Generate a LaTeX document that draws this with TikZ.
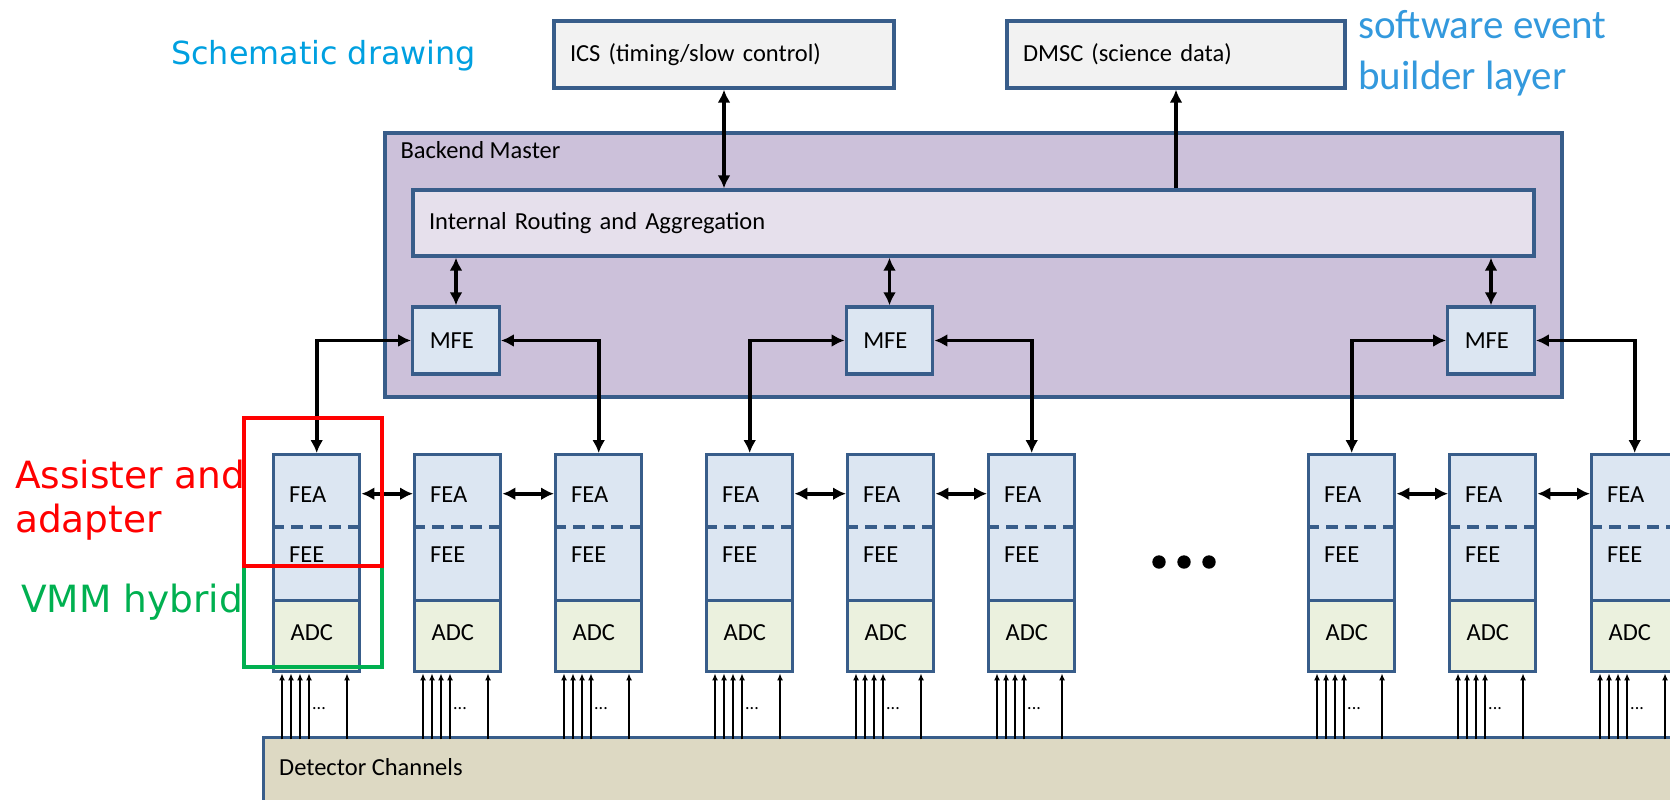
\documentclass[tikz,border=0pt]{standalone}
\usepackage{fontspec}
\setmainfont{Carlito}
\newfontfamily\verdanafont{DejaVu Sans}
\usetikzlibrary{arrows.meta,calc}

\definecolor{edgeblue}{HTML}{385D8A}
\definecolor{sysgray}{HTML}{F2F2F2}
\definecolor{bmpurple}{HTML}{CCC1DA}
\definecolor{irafill}{HTML}{E6E0EC}
\definecolor{fefill}{HTML}{DCE6F2}
\definecolor{adcfill}{HTML}{EBF1DE}
\definecolor{detfill}{HTML}{DDD9C3}
\definecolor{markred}{HTML}{FF0000}
\definecolor{markgreen}{HTML}{00B050}
\definecolor{skyblue}{HTML}{00A0E0}
\definecolor{eventblue}{HTML}{3399DD}

\tikzset{
  box/.style={draw=edgeblue, line width=3.4pt, rectangle, inner sep=0pt,
    font=\fontsize{24.5}{29}\selectfont},
  lbl/.style={inner sep=0pt, font=\fontsize{24.5}{29}\selectfont},
  link/.style={line width=3.6pt, >={Latex[length=13pt,width=13pt]}, <->},
  uplink/.style={link, ->},
  chan/.style={line width=1.6pt, -{Latex[length=7pt,width=6pt]}},
  sep/.style={draw=edgeblue, line width=3.6pt, dash pattern=on 12pt off 7pt},
  note/.style={inner sep=0pt, font=\verdanafont\fontsize{37.5}{44}\selectfont, align=left}
}

\begin{document}
\begin{tikzpicture}[x=1pt,y=-1pt]
\useasboundingbox (0,0) rectangle (1670,800);
\clip (0,0) rectangle (1670,800);

% top level systems
\node[box, fill=sysgray, minimum width=340pt, minimum height=67pt, text width=308pt, inner xsep=16pt, align=left] (ics) at (724,54.5) {ICS (timing/slow control)};
\node[box, fill=sysgray, minimum width=338pt, minimum height=67pt, text width=306pt, inner xsep=16pt, align=left] (dmsc) at (1176,54.5) {DMSC (science data)};

% backend master
\node[box, fill=bmpurple, minimum width=1177pt, minimum height=264pt] (bm) at (973.5,265) {};
\node[lbl, anchor=west] (bmlbl) at ($(bm.north west)+(17,19)$) {Backend Master};
\node[box, fill=irafill, minimum width=1121pt, minimum height=66pt, text width=1089pt, inner xsep=16pt, align=left] (ira) at (973.5,223) {Internal Routing and Aggregation};

\foreach \m/\x in {1/456,2/889.5,3/1491}
  \node[box, fill=fefill, minimum width=86.5pt, minimum height=67pt, text width=52.5pt, inner xsep=17pt, align=left] (mfe\m) at (\x,340.5) {MFE};

% detector
\node[box, fill=detfill, minimum width=1500pt, minimum height=120pt, anchor=north west] (det) at (262,736) {};
\node[lbl, anchor=west] (detlbl) at ($(det.north west)+(17,31)$) {Detector Channels};

% front end columns
\foreach \n/\x in {1/272,2/413,3/554,4/705,5/846,6/987,7/1307,8/1448,9/1590}{
  \node[box, fill=fefill, minimum width=86pt, minimum height=146pt, anchor=north west] (fe\n) at (\x,453) {};
  \node[box, fill=adcfill, minimum width=86pt, minimum height=71pt, text width=52pt, text depth=7pt, inner xsep=17pt, align=left, anchor=north west] (adc\n) at (\x,599) {ADC};
  \draw[sep] ($(fe\n.north west)+(0,74)$) -- ($(fe\n.north east)+(0,74)$);
  \node[lbl, anchor=west] (fea\n) at ($(fe\n.north west)+(17,42)$) {FEA};
  \node[lbl, anchor=west] (fee\n) at ($(fe\n.north west)+(17,102)$) {FEE};
  \foreach \dx in {10,19,28,37,75}
    \draw[chan] ($(adc\n.south west)+(\dx,66)$) -- ($(adc\n.south west)+(\dx,0)$);
  \node[lbl, anchor=west, font=\fontsize{18}{20}\selectfont] (dots\n) at ($(adc\n.south west)+(40,35)$) {...};
}

% links
\draw[link] (ics.south) -- (ics.south |- ira.north);
\draw[uplink] (dmsc.south |- ira.north) -- (dmsc.south);
\foreach \m in {1,2,3}
  \draw[link] (ira.south -| mfe\m.north) -- (mfe\m.north);
\draw[link] (mfe1.west) -| (fe1.north);
\draw[link] (mfe1.east) -| (fe3.north);
\draw[link] (mfe2.west) -| (fe4.north);
\draw[link] (mfe2.east) -| (fe6.north);
\draw[link] (mfe3.west) -| (fe7.north);
\draw[link] (mfe3.east) -| (fe9.north);
\foreach \a/\b in {1/2,2/3,4/5,5/6,7/8,8/9}
  \draw[link] ([yshift=34pt]fe\a.east) -- ([yshift=34pt]fe\b.west);

% more columns
\foreach \x in {1159,1184,1209}
  \fill (\x,562) circle (6.7pt);

% marked regions
\draw[markgreen, line width=3.8pt] (244,566) rectangle (382,667);
\draw[markred, line width=4.2pt] (244,418) rectangle (382,566);

% side notes
\node[note, anchor=base west, text=skyblue, font=\verdanafont\fontsize{31.8}{38}\selectfont] (schem) at (171,65) {Schematic drawing};
\node[note, anchor=base west, text=eventblue, font=\fontsize{41}{51}\selectfont] (evt) at (1358,89) {software event\\builder layer};
\node[note, anchor=base west, text=markred] (assist) at (15,532) {Assister and\\adapter};
\node[note, anchor=base west, text=markgreen] (vmm) at (21,612) {VMM hybrid};
\end{tikzpicture}
\end{document}
